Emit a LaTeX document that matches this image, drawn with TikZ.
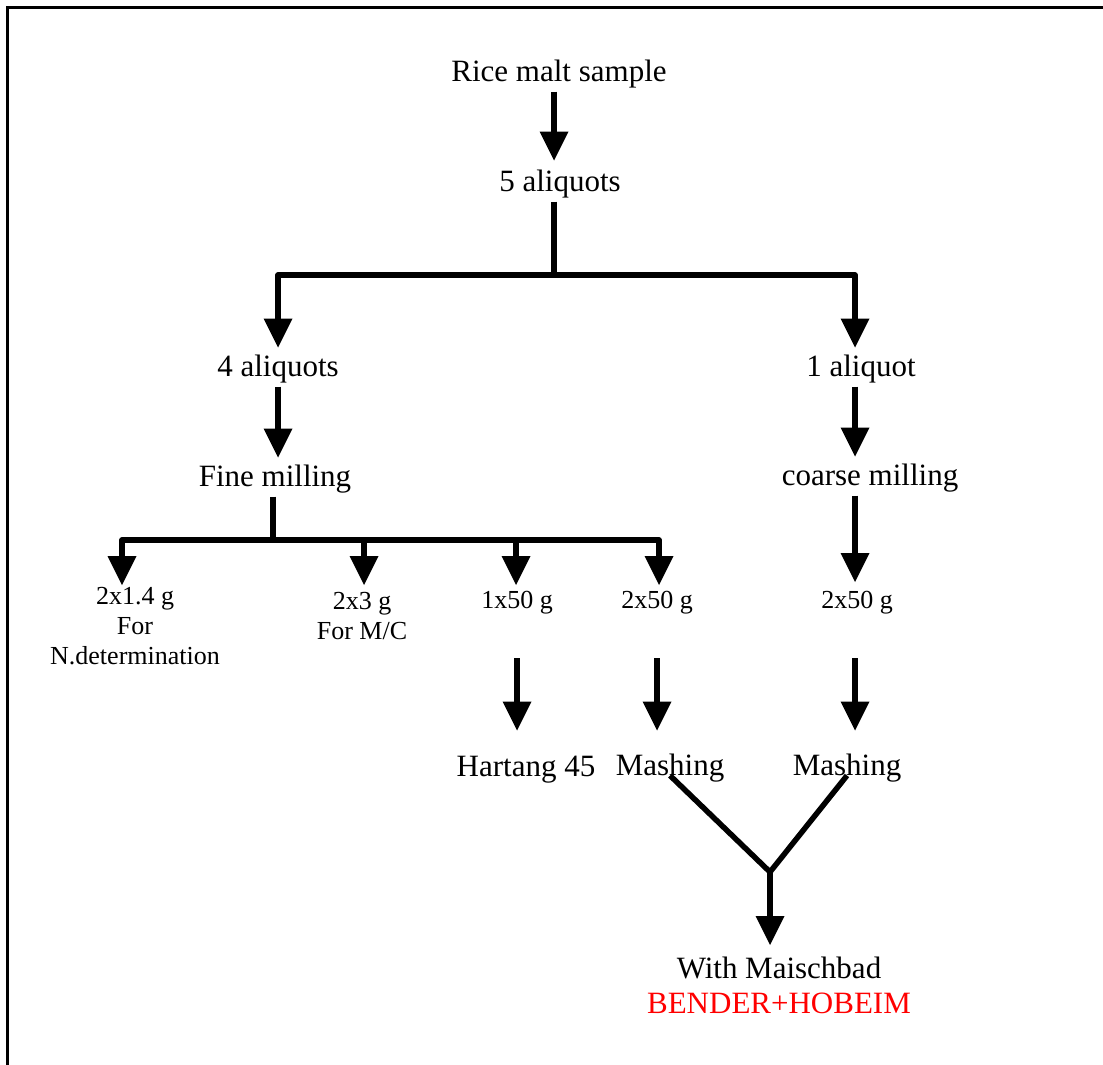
\documentclass[tikz,border=0pt]{standalone}
\usepackage{fontspec}
\setmainfont{Liberation Serif}
\usepackage{tikz}
\usetikzlibrary{
	arrows.meta,
	calc,
	positioning
}
\definecolor{LabelRed}{RGB}{255,0,0}

\begin{document}
\begin{tikzpicture}[x=1pt,y=-1pt,
		big/.style={font=\fontsize{31}{34}\selectfont,inner sep=0pt,outer sep=1pt,text height=22pt,text depth=9pt},
		small/.style={font=\fontsize{26}{30}\selectfont,inner sep=0pt,outer sep=1pt,text height=19pt,text depth=7pt},
		multi/.style={font=\fontsize{26}{30}\selectfont,inner sep=0pt,align=center,anchor=north},
		bar/.style={line width=5.5pt,line join=round},
		flow/.style={bar,-{Triangle[length=29pt,width=29pt,line width=0pt]}}]
		\useasboundingbox (0,0) rectangle (1103,1065);
		
		% frame
		\draw[line width=3pt] (7.5,1065) -- (7.5,7.5) -- (1103,7.5);
		
		% branch points
		\coordinate (mid) at (554,275);
		\coordinate (rcol) at (855,275);
		\coordinate (fcol) at (273,540);
		\coordinate (c1) at (122,540);
		\coordinate (c2) at (364,540);
		\coordinate (c3) at (516,540);
		\coordinate (c4) at (659,540);
		\coordinate (join) at (770,872);
		
		% labels
		\node[big] (rice) at (559,75) {Rice malt sample};
		\node[big] (five) at (560,185) {5 aliquots};
		\node[big] (four) at (278,370) {4 aliquots};
		\node[big] (one) at (861,370) {1 aliquot};
		\node[big] (fine) at (275,480) {Fine milling};
		\node[big] (coarse) at (870,479) {coarse milling};
		\node[multi] (det) at (135,587) {2x1.4 g\\For\\N.determination};
		\node[multi] (mc) at (362,592) {2x3 g\\For M/C};
		\node[small] (n150) at (517,602) {1x50 g};
		\node[small] (n250) at (657,602) {2x50 g};
		\node[small] (r250) at (857,602) {2x50 g};
		\node[big] (hart) at (526,770) {Hartang 45};
		\node[big] (mashL) at (670,769) {Mashing};
		\node[big] (mashR) at (847,769) {Mashing};
		\node[font=\fontsize{31}{35}\selectfont,inner sep=0pt,align=center,anchor=north] (maisch) at (779,957)
			{With Maischbad\\\textcolor{LabelRed}{BENDER+HOBEIM}};
		
		% top part
		\draw[flow,shorten >=8pt] (rice.south -| mid) -- (five.north -| mid);
		\draw[bar] (five.south -| mid) -- (mid);
		\draw[flow,shorten >=6pt] (mid) -| (four.north);
		\draw[flow,shorten >=6pt] (mid) -| (one.north -| rcol);
		
		% left column
		\draw[flow,shorten >=6pt] (four.south) -- (fine.north -| four.south);
		\draw[bar] (fine.south -| fcol) -- (fcol);
		\draw[flow,shorten >=2pt] (fcol) -| (det.north -| c1);
		\draw[flow,shorten >=3pt] (fcol) -| (n250.north -| c4);
		\draw[flow,shorten >=7pt] (c2) -- (mc.north -| c2);
		\draw[flow,shorten >=3pt] (c3) -- (n150.north -| c3);
		
		% right column
		\draw[flow,shorten >=6pt] (one.south -| rcol) -- (coarse.north -| rcol);
		\draw[flow,shorten >=6pt] (coarse.south -| rcol) -- (r250.north -| rcol);
		
		% lower arrows
		\draw[flow,shorten <=42pt,shorten >=23pt] (n150.south) -- (hart.north -| n150.south);
		\draw[flow,shorten <=42pt,shorten >=22pt] (n250.south) -- (mashL.north -| n250.south);
		\draw[flow,shorten <=42pt,shorten >=22pt] (r250.south -| rcol) -- (mashR.north -| rcol);
		
		% merge
		\draw[bar] (mashL.base) -- (join) -- (mashR.base);
		\draw[flow,shorten >=12pt] (join) -- (maisch.north -| join);
	\end{tikzpicture}
\end{document}
